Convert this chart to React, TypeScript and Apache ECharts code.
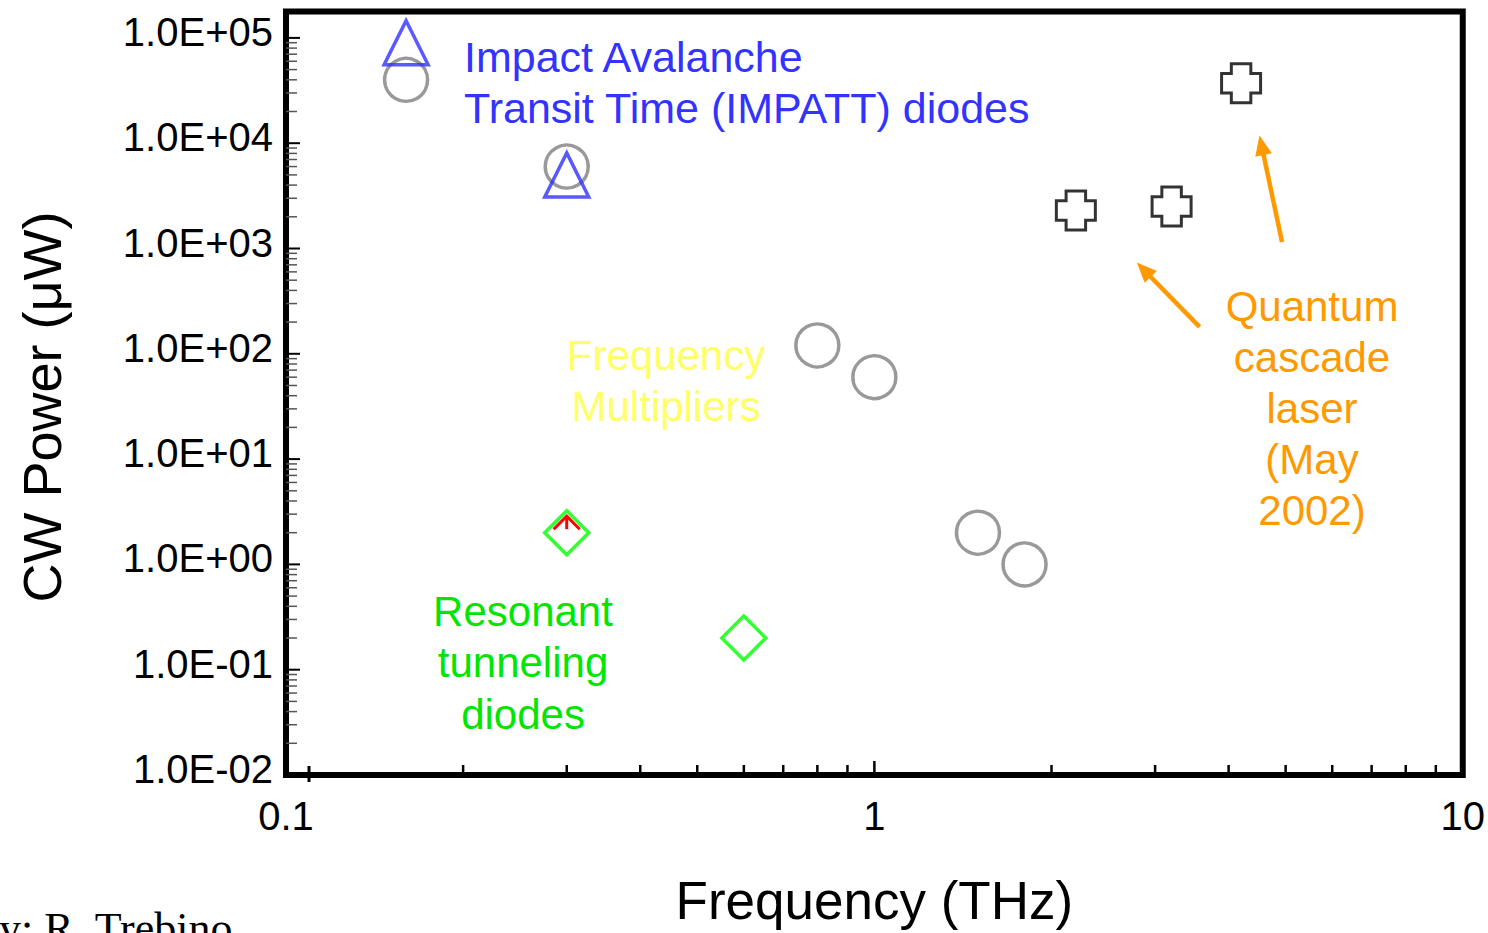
import React, { useEffect, useRef } from "react";
import * as echarts from "echarts";

// CW power of compact THz sources versus frequency
const circleFreq = [0.16, 0.3, 0.8, 1.0, 1.5, 1.8];
const circlePower = [4.0e4, 6.0e3, 120, 60, 2, 1];

const impattFreq = [0.16, 0.3];
const impattPower = [9.0e4, 5.0e3];

const rtdFreq = [0.3, 0.6];
const rtdPower = [2, 0.2];

const qclFreq = [2.2, 3.2, 4.2];
const qclPower = [2.3e3, 2.5e3, 3.7e4];

// Tick labels
const yTickLabels = ["1.0E-02", "1.0E-01", "1.0E+00", "1.0E+01", "1.0E+02", "1.0E+03", "1.0E+04", "1.0E+05"];
const xTickLabels = ["0.1", "1", "10"];

// Annotation arrows for the quantum cascade laser points: [tail, head] in data units
const qclArrows = [
  [[3.57, 180], [2.87, 628]],
  [[4.93, 1152], [4.55, 9550]],
];

const FONT = '"Liberation Sans", Arial, Helvetica, sans-serif';

const zip = (xs: number[], ys: number[]) => xs.map((x, i) => [x, ys[i]]);

// Log-axis tick positions (decades and 2..9 sub-ticks)
const yTicks: number[][] = [];
for (let e = -2; e <= 5; e++) {
  yTicks.push([0.1, Math.pow(10, e), 1]);
  if (e < 5) for (let k = 2; k <= 9; k++) yTicks.push([0.1, k * Math.pow(10, e), 0]);
}
const xTicks: number[][] = [];
for (let e = -1; e <= 1; e++) {
  xTicks.push([Math.pow(10, e), 0.01, 1]);
  if (e < 1) for (let k = 2; k <= 9; k++) xTicks.push([k * Math.pow(10, e), 0.01, 0]);
}

const hollow = (color: string, width: number) => ({
  color: "rgba(0,0,0,0)",
  borderColor: color,
  borderWidth: width,
});

const CROSS = "path://M1,0H3V1H4V3H3V4H1V3H0V1H1Z";

export default function App() {
  const ref = useRef<HTMLDivElement>(null);

  useEffect(() => {
    const chart = echarts.init(ref.current!, null, { renderer: "svg" });

    const option: any = {
      animation: false,
      backgroundColor: "#ffffff",
      grid: {
        left: 286,
        right: 25,
        top: 775 - 105.3 * 7.25,
        bottom: 158,
        show: true,
        borderColor: "#000",
        borderWidth: 6,
        backgroundColor: "transparent",
      },
      xAxis: {
        type: "log",
        logBase: 10,
        min: 0.1,
        max: 10,
        interval: 1,
        name: "Frequency (THz)",
        nameLocation: "middle",
        nameGap: 99,
        nameTextStyle: { fontFamily: FONT, fontSize: 53, color: "#000" },
        axisLine: { show: false },
        axisTick: { show: false },
        splitLine: { show: false },
        axisLabel: {
          fontFamily: FONT,
          fontSize: 40,
          color: "#000",
          margin: 21,
          formatter: (v: number) => {
            const e = Math.round(Math.log10(v));
            if (Math.abs(Math.log10(v) - e) > 0.01) return "";
            return xTickLabels[e + 1] ?? "";
          },
        },
      },
      yAxis: {
        type: "log",
        logBase: 10,
        min: 0.01,
        max: Math.pow(10, 5.25),
        interval: 1,
        axisLine: { show: false },
        axisTick: { show: false },
        splitLine: { show: false },
        axisLabel: {
          fontFamily: FONT,
          fontSize: 40,
          color: "#000",
          margin: 13,
          verticalAlign: "bottom",
          lineHeight: 12,
          showMaxLabel: false,
          formatter: (v: number) => {
            const e = Math.round(Math.log10(v));
            if (Math.abs(Math.log10(v) - e) > 0.01) return "";
            return yTickLabels[e + 2] ?? "";
          },
        },
      },
      series: [
        {
          name: "yTicks",
          type: "custom",
          silent: true,
          clip: false,
          data: yTicks,
          renderItem: (params: any, api: any) => {
            const p = api.coord([api.value(0), api.value(1)]);
            const major = api.value(2) === 1;
            return {
              type: "line",
              shape: { x1: p[0], y1: p[1], x2: p[0] + (major ? 14 : 11), y2: p[1] },
              style: { stroke: major ? "#000" : "#555", lineWidth: major ? 2 : 1.5 },
            };
          },
        },
        {
          name: "xTicks",
          type: "custom",
          silent: true,
          clip: false,
          data: xTicks,
          renderItem: (params: any, api: any) => {
            const p = api.coord([api.value(0), api.value(1)]);
            const major = api.value(2) === 1;
            return {
              type: "line",
              shape: { x1: p[0], y1: p[1], x2: p[0], y2: p[1] - (major ? 14 : 10) },
              style: { stroke: "#000", lineWidth: 2.5 },
            };
          },
        },
        {
          name: "Sources",
          type: "scatter",
          symbol: "circle",
          symbolSize: 43,
          itemStyle: hollow("#808080", 3.5),
          data: zip(circleFreq, circlePower),
          silent: true,
          z: 3,
        },
        {
          name: "IMPATT",
          type: "scatter",
          symbol: "triangle",
          symbolSize: 44,
          itemStyle: hollow("#3030ff", 3.5),
          data: zip(impattFreq, impattPower),
          silent: true,
          z: 4,
        },
        {
          name: "RTD",
          type: "scatter",
          symbol: "diamond",
          symbolSize: 44,
          itemStyle: hollow("#00ff00", 3.5),
          data: zip(rtdFreq, rtdPower),
          silent: true,
          z: 4,
        },
        {
          name: "RTD limit",
          type: "custom",
          silent: true,
          clip: false,
          z: 5,
          data: [zip(rtdFreq, rtdPower)[0]],
          renderItem: (params: any, api: any) => {
            const p = api.coord([api.value(0), api.value(1)]);
            return {
              type: "group",
              x: p[0],
              y: p[1],
              children: [
                {
                  type: "polyline",
                  shape: { points: [[-13, -3.5], [0, -16.5], [13, -3.5]] },
                  style: { stroke: "#ff0000", lineWidth: 3, fill: "none" },
                },
                {
                  type: "line",
                  shape: { x1: 0, y1: -16.5, x2: 0, y2: -3.5 },
                  style: { stroke: "#ff0000", lineWidth: 3 },
                },
              ],
            };
          },
        },
        {
          name: "QCL",
          type: "scatter",
          symbol: CROSS,
          symbolSize: 39,
          itemStyle: hollow("#000", 3),
          data: zip(qclFreq, qclPower),
          silent: true,
          z: 4,
          markLine: {
            silent: true,
            symbol: ["none", "triangle"],
            symbolSize: [17, 20],
            label: { show: false },
            lineStyle: { color: "#ff9900", width: 4.5, type: "solid" },
            itemStyle: { color: "#ff9900" },
            data: qclArrows.map(([a, b]) => [{ coord: a }, { coord: b }]),
          },
        },
      ],
      graphic: [
        {
          type: "line",
          silent: true,
          shape: { x1: 309, y1: 766, x2: 309, y2: 782 },
          style: { stroke: "#000", lineWidth: 3 },
        },
        {
          type: "text",
          silent: true,
          rotation: Math.PI / 2,
          x: 42,
          y: 407,
          style: {
            text: "CW Power (μW)",
            fontFamily: FONT,
            fontSize: 54,
            fill: "#000",
            align: "center",
            verticalAlign: "middle",
          },
        },
        {
          type: "text",
          silent: true,
          x: 464,
          y: 31.5,
          style: {
            text: "Impact Avalanche\nTransit Time (IMPATT) diodes",
            fontFamily: FONT,
            fontSize: 43,
            lineHeight: 51,
            fill: "#3333ff",
            align: "left",
            verticalAlign: "top",
          },
        },
        {
          type: "text",
          silent: true,
          x: 666,
          y: 329.5,
          style: {
            text: "Frequency\nMultipliers",
            fontFamily: FONT,
            fontSize: 42,
            lineHeight: 51,
            fill: "#ffff66",
            align: "center",
            verticalAlign: "top",
          },
        },
        {
          type: "text",
          silent: true,
          x: 523,
          y: 585.5,
          style: {
            text: "Resonant\ntunneling\ndiodes",
            fontFamily: FONT,
            fontSize: 42,
            lineHeight: 51.5,
            fill: "#00e600",
            align: "center",
            verticalAlign: "top",
          },
        },
        {
          type: "text",
          silent: true,
          x: 1312,
          y: 280.5,
          style: {
            text: "Quantum\ncascade\nlaser\n(May\n2002)",
            fontFamily: FONT,
            fontSize: 42,
            lineHeight: 51.2,
            fill: "#ff9900",
            align: "center",
            verticalAlign: "top",
          },
        },
        {
          type: "text",
          silent: true,
          x: -1,
          y: 906,
          style: {
            text: "y: R. Trebino",
            fontFamily: '"Liberation Serif", "Times New Roman", serif',
            fontSize: 44,
            fill: "#000",
            align: "left",
            verticalAlign: "top",
          },
        },
      ],
    };

    chart.setOption(option);
    return () => chart.dispose();
  }, []);

  return (
    <div
      ref={ref}
      style={{ position: "fixed", left: 0, top: 0, width: 1488, height: 933, background: "#fff" }}
    />
  );
}
